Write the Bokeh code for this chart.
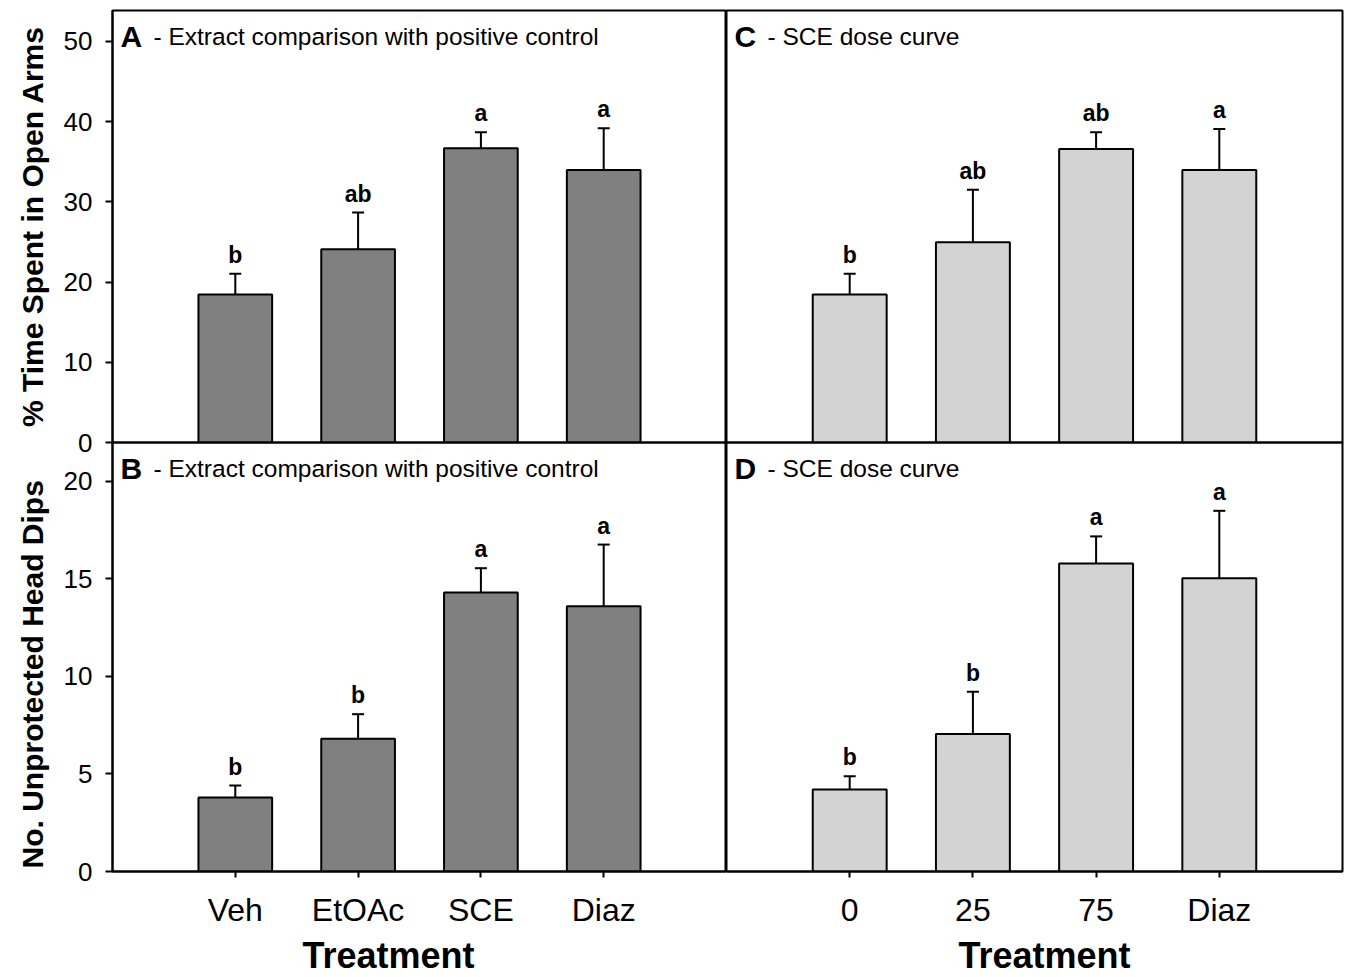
import numpy as np
from bokeh.plotting import figure
from bokeh.layouts import column, row
from bokeh.models import Range1d, FixedTicker, Whisker, TeeHead, ColumnDataSource, Title
from bokeh.core.properties import value
from bokeh.embed import file_html
from bokeh.resources import INLINE

# Treatment groups
extract_groups = ["Veh", "EtOAc", "SCE", "Diaz"]
dose_groups = ["0", "25", "75", "Diaz"]

# % time spent in open arms (mean and SEM)
open_arms_extract = [18.44, 24.08, 36.67, 33.98]
open_arms_extract_sem = [2.58, 4.58, 1.99, 5.18]
open_arms_dose = [18.44, 24.96, 36.60, 33.98]
open_arms_dose_sem = [2.58, 6.56, 2.06, 5.10]

# Unprotected head dips (mean and SEM)
head_dips_extract = [3.79, 6.80, 14.30, 13.59]
head_dips_extract_sem = [0.61, 1.26, 1.24, 3.16]
head_dips_dose = [4.20, 7.04, 15.78, 15.03]
head_dips_dose_sem = [0.68, 2.17, 1.39, 3.45]

# Significance groupings
letters_a = ["b", "ab", "a", "a"]
letters_b = ["b", "b", "a", "a"]
letters_c = ["b", "ab", "ab", "a"]
letters_d = ["b", "b", "a", "a"]

open_arms_ticks = [0, 10, 20, 30, 40, 50]
head_dips_ticks = [0, 5, 10, 15, 20]

FONT_NAME = "Liberation Sans"
FONT = value(FONT_NAME)
DARK = "#808080"
LIGHT = "#d3d3d3"
OVERLAP = 16  # shared strip so the "0" label of the upper panel is not cut


def panel(groups, means, sems, letters, fill, y_end, yticks, tag, title,
          width, height, left, right, top, bottom, show_y, show_x, clear=False):
    p = figure(width=width, height=height, output_backend="svg", toolbar_location=None,
               x_range=Range1d(0, 5), y_range=Range1d(0, y_end),
               x_axis_location="below" if show_x else None,
               y_axis_location="left" if show_y else None,
               min_border_left=left, min_border_right=right,
               min_border_top=top, min_border_bottom=bottom)
    p.grid.visible = False
    p.outline_line_color = "black"
    p.outline_line_width = 2
    if clear:
        p.background_fill_color = None
        p.border_fill_color = None
    else:
        p.background_fill_color = "white"
        p.border_fill_color = "white"

    xs = list(range(1, len(groups) + 1))
    upper = [m + s for m, s in zip(means, sems)]
    src = ColumnDataSource(dict(x=xs, mean=means, upper=upper, letter=letters))

    p.vbar(x="x", top="mean", bottom=0, width=0.6, source=src,
           fill_color=fill, line_color="black", line_width=2)
    p.add_layout(Whisker(source=src, base="x", lower="mean", upper="upper",
                         line_color="black", line_width=2, level="annotation",
                         lower_head=None,
                         upper_head=TeeHead(size=12, line_width=2, line_color="black")))
    p.text(x="x", y="upper", text="letter", source=src, y_offset=-19,
           text_align="center", text_baseline="alphabetic",
           text_font=FONT, text_font_style="bold", text_font_size="23px",
           text_color="black")

    # Panel heading: bold tag followed by description
    p.text(x=[0], y=[y_end], text=[tag], x_offset=8, y_offset=26,
           text_baseline="alphabetic", text_align="left",
           text_font=FONT, text_font_style="bold", text_font_size="30px",
           text_color="black")
    p.text(x=[0], y=[y_end], text=["- " + title], x_offset=41, y_offset=26,
           text_baseline="alphabetic", text_align="left",
           text_font=FONT, text_font_size="24.5px", text_color="black")

    if show_y:
        ax = p.yaxis[0]
        ax.ticker = FixedTicker(ticks=yticks)
        ax.axis_line_width = 2
        ax.major_tick_line_width = 2
        ax.major_tick_in = 0
        ax.major_tick_out = 7
        ax.minor_tick_line_color = None
        ax.major_label_standoff = 13
        ax.major_label_text_font = FONT_NAME
        ax.major_label_text_font_size = "26px"
        ax.major_label_text_color = "black"
    if show_x:
        ax = p.xaxis[0]
        ax.ticker = FixedTicker(ticks=xs)
        ax.major_label_overrides = {x: g for x, g in zip(xs, groups)}
        ax.axis_line_width = 2
        ax.major_tick_line_width = 2
        ax.major_tick_in = 0
        ax.major_tick_out = 6
        ax.minor_tick_line_color = None
        ax.major_label_standoff = 14
        ax.major_label_text_font = FONT_NAME
        ax.major_label_text_font_size = "32px"
        ax.major_label_text_color = "black"
    return p


def side_title(p, text, place, size, align, offset, standoff):
    p.add_layout(Title(text=text, align=align, offset=offset, standoff=standoff,
                       text_font=FONT_NAME, text_font_style="bold",
                       text_font_size=size, text_color="black"), place)


pa = panel(extract_groups, open_arms_extract, open_arms_extract_sem, letters_a, DARK,
           53.85, open_arms_ticks, "A", "Extract comparison with positive control",
           726, 442 + OVERLAP, 112, 0, 10, OVERLAP, True, False)
side_title(pa, "% Time Spent in Open Arms", "left", "30px", "center", 0, 24)

pc = panel(dose_groups, open_arms_dose, open_arms_dose_sem, letters_c, LIGHT,
           53.85, open_arms_ticks, "C", "SCE dose curve",
           622, 442 + OVERLAP, 0, 6, 10, OVERLAP, False, False)

pb = panel(extract_groups, head_dips_extract, head_dips_extract_sem, letters_b, DARK,
           21.98, head_dips_ticks, "B", "Extract comparison with positive control",
           726, 535 + OVERLAP, 112, 0, OVERLAP, 104, True, True, clear=True)
side_title(pb, "No. Unprotected Head Dips", "left", "30px", "left", 3, 24)
side_title(pb, "Treatment", "below", "36px", "left", 190, 4)

pd_ = panel(dose_groups, head_dips_dose, head_dips_dose_sem, letters_d, LIGHT,
            21.98, head_dips_ticks, "D", "SCE dose curve",
            622, 535 + OVERLAP, 0, 6, OVERLAP, 104, False, True, clear=True)
side_title(pd_, "Treatment", "below", "36px", "left", 232, 4)

layout = column(row(pa, pc, spacing=0),
                row(pb, pd_, spacing=0, margin=(-2 * OVERLAP, 0, 0, 0)),
                spacing=0)

open("out.html", "w").write(file_html(layout, INLINE))
